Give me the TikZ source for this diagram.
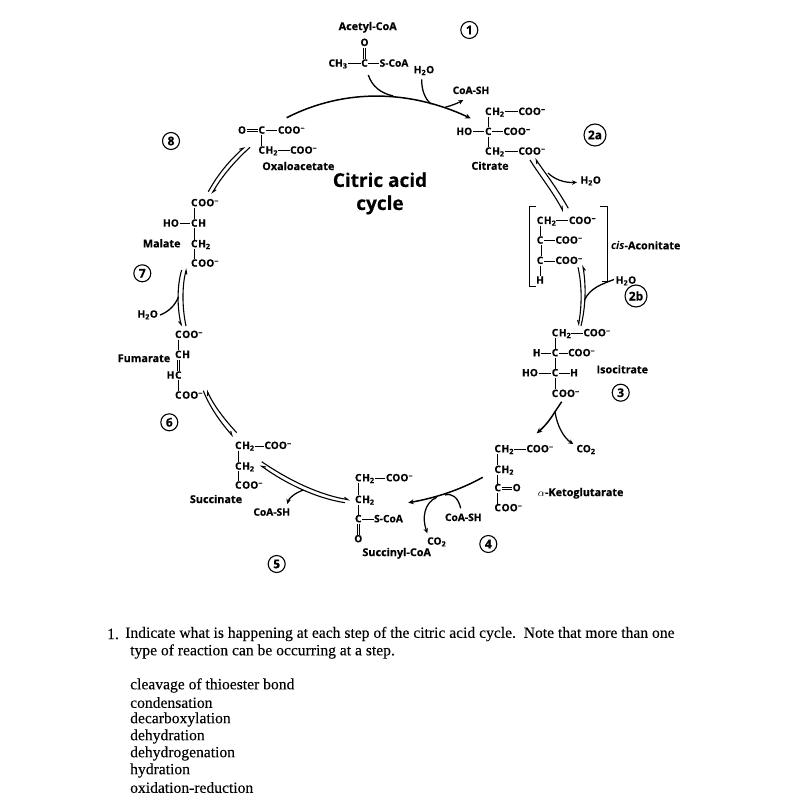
\documentclass[tikz,border=0pt]{standalone}
\usepackage{fontspec}
\setmainfont{Open Sans}[BoldFeatures={FakeBold=0.35}]
\newfontfamily\qfont{Liberation Serif}[FakeBold=0.1]
\usetikzlibrary{arrows.meta}
\newcommand{\su}[1]{\textsubscript{#1}}
\newcommand{\chg}{\textsuperscript{\raisebox{-0.2ex}{−}}}
\tikzset{
  atom/.style={inner sep=0pt,outer sep=0.6pt,text height=7pt,text depth=1pt,font=\fontsize{10.2}{11}\selectfont\bfseries},
  lbl/.style={inner sep=0pt,font=\fontsize{10.8}{12}\selectfont\bfseries},
  bond/.style={line width=1pt,black},
  dbl/.style={double,double distance=1.4pt,line width=0.8pt},
  rxn/.style={line width=1.5pt,-{Stealth[length=5.5pt,width=5pt]}},
  sidearrow/.style={line width=1.25pt,-{Stealth[length=5pt,width=4.5pt]}},
  branch/.style={line width=1.3pt},
  eqm/.style={line width=1.1pt,-{Straight Barb[harpoon,length=3.5pt,width=3.5pt]}},
  eqmr/.style={line width=1.1pt,-{Straight Barb[harpoon,swap,length=3.5pt,width=3.5pt]}},
  stepmark/.style={draw,circle,line width=1.1pt,inner sep=0pt,minimum size=17pt,font=\fontsize{12}{12}\selectfont\bfseries},
  stepbig/.style={draw,circle,line width=1.1pt,inner sep=0pt,minimum size=22pt,font=\fontsize{12}{12}\selectfont\bfseries},
  cycletitle/.style={inner sep=0pt,align=center,font=\fontsize{19}{23}\selectfont\bfseries},
  qtext/.style={inner sep=0pt,anchor=west,font=\qfont\fontsize{15.6}{17}\selectfont}
}
% atom: name, x, y, text
\newcommand{\atm}[4]{\node[atom] (#1) at (#2,#3) {#4};}
% carbon with the rest of its group to the right of it
\newcommand{\cgrp}[4]{\node[atom] (#1) at (#2,#3) {C}; \node[atom,anchor=west,outer sep=0pt] (#1r) at (#1.east) {#4};}
\begin{document}
\begin{tikzpicture}[x=1pt,y=-1pt]
\useasboundingbox (0,0) rectangle (791,802);
\fill[white] (0,0) rectangle (791,802);

% ---- Acetyl-CoA
\node[lbl] (nAc) at (367.7,27.3) {Acetyl-CoA};
\atm{acO}{364.5}{43}{O}
\atm{acC}{364.5}{63.7}{C}
\atm{acCH}{338}{63.7}{CH\su{3}}
\atm{acS}{394}{63.7}{S-CoA}
\draw[bond,dbl] (acO) -- (acC);
\draw[bond] (acCH) -- (acC);
\draw[bond] (acC) -- (acS);
\node[atom] (wat1) at (424,70.3) {H\su{2}O};
\node[atom] (csh1) at (471,91) {CoA-SH};
\node[stepmark] (s1) at (469.3,30) {1};

% ---- Citrate
\cgrp{ci1}{488.3}{112}{H\su{2}}
\atm{ci1b}{532}{112}{COO\chg}
\atm{ciHO}{464.3}{132}{HO}
\atm{ci2}{488.3}{132}{C}
\atm{ci2b}{517}{132}{COO\chg}
\cgrp{ci3}{488.3}{151.7}{H\su{2}}
\atm{ci3b}{532}{151.7}{COO\chg}
\draw[bond] (ci1r) -- (ci1b);
\draw[bond] (ciHO) -- (ci2);
\draw[bond] (ci2) -- (ci2b);
\draw[bond] (ci3r) -- (ci3b);
\draw[bond] (ci1) -- (ci2);
\draw[bond] (ci2) -- (ci3);
\node[lbl] (nCi) at (490,165.7) {Citrate};
\node[stepbig] (s2a) at (595,135) {2a};

% ---- cis-Aconitate
\cgrp{ao1}{540}{221}{H\su{2}}
\atm{ao1b}{582.5}{221}{COO\chg}
\atm{ao2}{540}{240.7}{C}
\atm{ao2b}{569}{240.7}{COO\chg}
\atm{ao3}{540}{261}{C}
\atm{ao3b}{569}{261}{COO\chg}
\atm{ao4}{540}{280.7}{H}
\draw[bond] (ao1r) -- (ao1b);
\draw[bond] (ao2) -- (ao2b);
\draw[bond] (ao3) -- (ao3b);
\draw[bond] (ao1) -- (ao2);
\draw[bond,dbl] (ao2) -- (ao3);
\draw[bond] (ao3) -- (ao4);
\coordinate (brL1) at (535.7,206.7);
\coordinate (brL2) at (529.3,206.7);
\coordinate (brL3) at (529.3,286);
\coordinate (brL4) at (535.7,286);
\coordinate (brR1) at (600,206.7);
\coordinate (brR2) at (607.3,206.7);
\coordinate (brR3) at (607.3,281.7);
\coordinate (brR4) at (601.7,281.7);
\draw[line width=0.8pt] (brL1) -- (brL2) -- (brL3) -- (brL4);
\draw[line width=0.8pt] (brR1) -- (brR2) -- (brR3) -- (brR4);
\node[lbl] (nAo) at (645.7,245.3) {\itshape cis\upshape-Aconitate};
\node[atom] (wat2) at (590.7,180.7) {H\su{2}O};
\node[atom] (wat3) at (626,280.7) {H\su{2}O};
\node[stepbig] (s2b) at (636,296) {2b};

% ---- Isocitrate
\cgrp{is1}{555}{333.3}{H\su{2}}
\atm{is1b}{597}{333.3}{COO\chg}
\atm{isH}{536.7}{353.3}{H}
\atm{is2}{555}{353.3}{C}
\atm{is2b}{581.7}{353.3}{COO\chg}
\atm{isHO}{530}{373.3}{HO}
\atm{is3}{555}{373.3}{C}
\atm{is3b}{574}{373.3}{H}
\cgrp{is4}{555}{394}{OO\chg}
\draw[bond] (is1r) -- (is1b);
\draw[bond] (isH) -- (is2);
\draw[bond] (is2) -- (is2b);
\draw[bond] (isHO) -- (is3);
\draw[bond] (is3) -- (is3b);
\draw[bond] (is1) -- (is2);
\draw[bond] (is2) -- (is3);
\draw[bond] (is3) -- (is4);
\node[lbl] (nIs) at (622.3,369.3) {Isocitrate};
\node[stepmark] (s3) at (620.7,392.7) {3};

% ---- alpha-Ketoglutarate
\cgrp{kg1}{497.7}{449.3}{H\su{2}}
\atm{kg1b}{540}{449.3}{COO\chg}
\cgrp{kg2}{497.7}{470}{H\su{2}}
\atm{kg3}{497.7}{488.3}{C}
\atm{kg3b}{516.7}{488.3}{O}
\cgrp{kg4}{497.7}{508.3}{OO\chg}
\draw[bond] (kg1r) -- (kg1b);
\draw[bond] (kg1) -- (kg2);
\draw[bond] (kg2) -- (kg3);
\draw[bond] (kg3) -- (kg4);
\draw[bond,dbl] (kg3) -- (kg3b);
\node[lbl] (nKg) at (580.7,493.3) {$\alpha$-Ketoglutarate};
\node[atom] (co1) at (586,449.3) {CO\su{2}};
\node[stepmark] (s4) at (488.3,544) {4};

% ---- Succinyl-CoA
\cgrp{sy1}{358.3}{478.3}{H\su{2}}
\atm{sy1b}{399.5}{478.3}{COO\chg}
\cgrp{sy2}{358.3}{500}{H\su{2}}
\atm{sy3}{358.3}{519.3}{C}
\atm{sy3b}{388.5}{519.3}{S-CoA}
\atm{sy4}{358.3}{539.3}{O}
\draw[bond] (sy1r) -- (sy1b);
\draw[bond] (sy1) -- (sy2);
\draw[bond] (sy2) -- (sy3);
\draw[bond] (sy3) -- (sy3b);
\draw[bond,dbl] (sy3) -- (sy4);
\node[lbl] (nSy) at (396.7,553.3) {Succinyl-CoA};
\node[atom] (co2) at (436.7,541.7) {CO\su{2}};
\node[atom] (csh2) at (463.3,518) {CoA-SH};

% ---- Succinate
\cgrp{sc1}{238.3}{446}{H\su{2}}
\atm{sc1b}{278}{446}{COO\chg}
\cgrp{sc2}{238.3}{466.7}{H\su{2}}
\cgrp{sc3}{238.3}{485.7}{OO\chg}
\draw[bond] (sc1r) -- (sc1b);
\draw[bond] (sc1) -- (sc2);
\draw[bond] (sc2) -- (sc3);
\node[lbl] (nSc) at (216,499) {Succinate};
\node[atom] (csh3) at (271.7,512.7) {CoA-SH};
\node[stepmark] (s5) at (276.7,564) {5};

% ---- Fumarate
\cgrp{fu1}{178.3}{335}{OO\chg}
\cgrp{fu2}{178.3}{355}{H}
\atm{fu3}{178.3}{375.7}{C}
\node[atom,anchor=east,outer sep=0pt] (fu3l) at (fu3.west) {H};
\cgrp{fu4}{178.3}{395.7}{OO\chg}
\draw[bond] (fu1) -- (fu2);
\draw[bond,dbl] (fu2) -- (fu3);
\draw[bond] (fu3) -- (fu4);
\node[lbl] (nFu) at (144,358.3) {Fumarate};
\node[stepmark] (s6) at (169.3,422.3) {6};
\node[atom] (wat4) at (147.7,314.7) {H\su{2}O};

% ---- Malate
\cgrp{ma1}{194.3}{203.3}{OO\chg}
\atm{maHO}{171}{223.7}{HO}
\cgrp{ma2}{194.3}{223.7}{H}
\cgrp{ma3}{194.3}{244.3}{H\su{2}}
\cgrp{ma4}{194.3}{263.7}{OO\chg}
\draw[bond] (maHO) -- (ma2);
\draw[bond] (ma1) -- (ma2);
\draw[bond] (ma2) -- (ma3);
\draw[bond] (ma3) -- (ma4);
\node[lbl] (nMa) at (161.7,243.3) {Malate};
\node[stepmark] (s7) at (142.3,273.3) {7};

% ---- Oxaloacetate
\atm{oaO}{242}{130.7}{O}
\atm{oa1}{261.7}{130.7}{C}
\atm{oa1b}{291.5}{130.7}{COO\chg}
\cgrp{oa2}{261.7}{150.7}{H\su{2}}
\atm{oa2b}{303.7}{150.7}{COO\chg}
\draw[bond,dbl] (oaO) -- (oa1);
\draw[bond] (oa1) -- (oa1b);
\draw[bond] (oa1) -- (oa2);
\draw[bond] (oa2r) -- (oa2b);
\node[lbl] (nOa) at (298.3,166) {Oxaloacetate};
\node[stepmark] (s8) at (171,141) {8};

\node[cycletitle] (ttl) at (380,193.5) {Citric acid\\cycle};

% ---- Step 1: condensation
\coordinate (m1a) at (286.7,117.7);
\coordinate (m1b) at (470.7,118.3);
\draw[rxn] (m1a) .. controls (345,88) and (410,90) .. (m1b);
\coordinate (m1c) at (368.3,75);
\coordinate (m1d) at (393.3,96);
\draw[branch] (m1c) .. controls (372,86) and (380,93) .. (m1d);
\coordinate (m1e) at (421.7,79.3);
\coordinate (m1f) at (431,104);
\draw[branch] (m1e) .. controls (421.5,90) and (425,99) .. (m1f);
\coordinate (m1g) at (445,107.3);
\coordinate (m1h) at (463.3,100);
\draw[sidearrow] (m1g) .. controls (452,105.5) and (458,103) .. (m1h);

% ---- Step 2a
\coordinate (e2a) at (530,160);
\coordinate (e2b) at (563.3,211.7);
\coordinate (e2c) at (568.3,208.3);
\coordinate (e2d) at (535,158.3);
\draw[eqm] (e2a) .. controls (540,176) and (553,192) .. (e2b);
\draw[eqm] (e2c) .. controls (558,190) and (546,174) .. (e2d);
\coordinate (b2a) at (548,173);
\coordinate (b2b) at (577,182.3);
\draw[sidearrow] (b2a) .. controls (554,179) and (564,183) .. (b2b);

% ---- Step 2b
\coordinate (e3a) at (578,267.3);
\coordinate (e3b) at (578.3,326);
\coordinate (e3c) at (581,326);
\coordinate (e3d) at (582.7,265);
\draw[eqmr] (e3a) .. controls (582,285) and (582,305) .. (e3b);
\draw[eqmr] (e3c) .. controls (586,305) and (586,285) .. (e3d);
\coordinate (b3a) at (584.5,300);
\coordinate (b3b) at (614,279.5);
\draw[branch] (b3a) .. controls (590,288) and (602,284) .. (b3b);

% ---- Step 3
\coordinate (m3a) at (555,411.7);
\coordinate (m3b) at (536.7,433.3);
\coordinate (m3c) at (561.7,401.7);
\draw[rxn] (m3c) -- (m3a) .. controls (550,420) and (544,427) .. (m3b);
\coordinate (m3d) at (573.3,444);
\draw[sidearrow] (m3a) .. controls (557,426) and (564,438) .. (m3d);

% ---- Step 4
\coordinate (m4a) at (482.7,477.3);
\coordinate (m4b) at (408.3,502.7);
\draw[rxn] (m4a) .. controls (460,490) and (435,498) .. (m4b);
\coordinate (m4c) at (436.7,497.3);
\coordinate (m4d) at (427.3,533.3);
\draw[sidearrow] (m4c) .. controls (424,503) and (422,518) .. (m4d);
\coordinate (m4e) at (445,495);
\coordinate (m4f) at (460.7,508.3);
\draw[branch] (m4f) .. controls (458,497) and (452,493) .. (m4e);

% ---- Step 5
\coordinate (e5a) at (261.7,461.7);
\coordinate (e5b) at (350,500);
\coordinate (e5c) at (345,502.7);
\coordinate (e5d) at (260,465);
\draw[eqm] (e5a) .. controls (290,481) and (320,495) .. (e5b);
\draw[eqmr] (e5c) .. controls (315,498) and (285,483) .. (e5d);
\coordinate (b5a) at (303.3,490);
\coordinate (b5b) at (287.3,504);
\draw[sidearrow] (b5a) .. controls (295,493) and (289,498) .. (b5b);

% ---- Step 6
\coordinate (e6a) at (203.3,390.7);
\coordinate (e6b) at (233.3,436.7);
\coordinate (e6c) at (236.7,432.7);
\coordinate (e6d) at (206.7,390);
\draw[eqm] (e6a) .. controls (210,408) and (222,424) .. (e6b);
\draw[eqm] (e6c) .. controls (225,420) and (214,406) .. (e6d);

% ---- Step 7
\coordinate (e7a) at (181.7,270);
\coordinate (e7b) at (181.7,326.7);
\coordinate (e7c) at (186,326);
\coordinate (e7d) at (186.7,268.3);
\draw[eqmr] (e7a) .. controls (177,285) and (177,308) .. (e7b);
\draw[eqmr] (e7c) .. controls (182,308) and (182,285) .. (e7d);
\coordinate (b7a) at (178.5,296.7);
\coordinate (b7b) at (160,315);
\draw[branch] (b7b) .. controls (168,312) and (175,306) .. (b7a);

% ---- Step 8
\coordinate (e8a) at (208.3,191.7);
\coordinate (e8b) at (245,146.7);
\coordinate (e8c) at (250,147.3);
\coordinate (e8d) at (211.7,194);
\draw[eqm] (e8a) .. controls (218,174) and (230,160) .. (e8b);
\draw[eqm] (e8c) .. controls (235,161) and (222,176) .. (e8d);

% ---- Question text
\node[qtext] (q0) at (107,634) {1.};
\node[qtext] (q1) at (125,634) {Indicate what is happening at each step of the citric acid cycle.\ \ Note that more than one};
\node[qtext] (q2) at (130,651.5) {type of reaction can be occurring at a step.};
\node[qtext] (q3) at (130,685.5) {cleavage of thioester bond};
\node[qtext] (q4) at (130,702.5) {condensation};
\node[qtext] (q5) at (130,719.5) {decarboxylation};
\node[qtext] (q6) at (130,736.5) {dehydration};
\node[qtext] (q7) at (130,753.5) {dehydrogenation};
\node[qtext] (q8) at (130,770.5) {hydration};
\node[qtext] (q9) at (130,787.5) {oxidation-reduction};
\end{tikzpicture}
\end{document}
